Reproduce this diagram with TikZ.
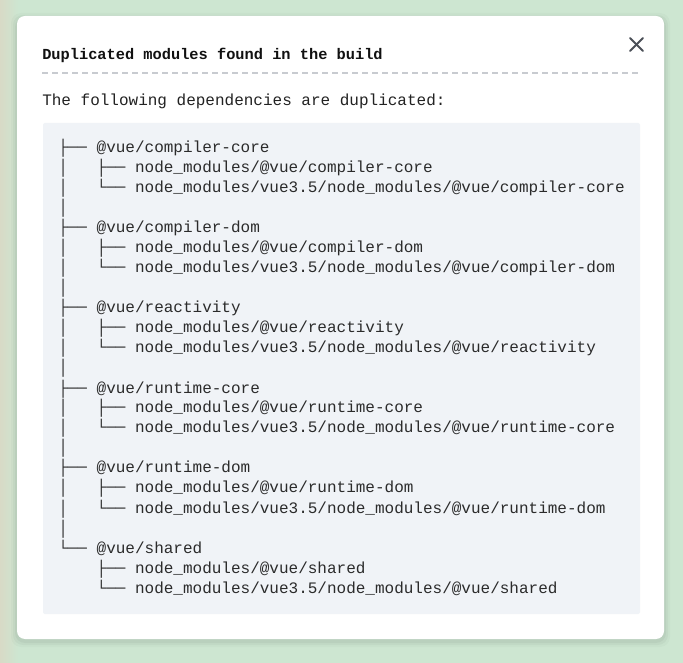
\documentclass[tikz,border=0pt]{standalone}
\usepackage{fontspec}
\setmonofont{Liberation Mono}
\usetikzlibrary{calc}
\definecolor{bggreen}{HTML}{CDE6D1}
\definecolor{bgbeige}{HTML}{D8DAC6}
\definecolor{codebg}{HTML}{F0F3F7}
\definecolor{dashgray}{HTML}{C8CBD0}
\definecolor{closegray}{HTML}{4A4F57}
\definecolor{titletxt}{HTML}{111111}
\definecolor{bodytxt}{HTML}{222222}
\definecolor{codetxt}{HTML}{2B2B2B}
\tikzset{
  code/.style={anchor=base west, inner sep=0pt, font=\ttfamily\fontsize{12}{15}\selectfont, text=codetxt},
  titletext/.style={anchor=base west, inner sep=0pt, font=\ttfamily\bfseries\fontsize{11.5}{14}\selectfont, text=titletxt},
  bodytext/.style={anchor=base west, inner sep=0pt, font=\ttfamily\fontsize{12}{15}\selectfont, text=bodytxt},
  closeline/.style={draw=closegray, line width=1.5pt, line cap=round},
}
\newcommand\nm{node\_modules}
\begin{document}
\begin{tikzpicture}[x=0.75pt,y=-0.75pt]
\useasboundingbox (0,0) rectangle (683,663);
% background
\fill[bggreen] (0,0) rectangle (683,663);
\shade[left color=bgbeige, right color=bggreen] (0,0) rectangle (18,663);
% card shadow
\foreach \s/\o in {6/0.02,4/0.03,2/0.04}{
  \fill[black, opacity=\o, rounded corners=7.5pt] (17-\s,16-\s+3) rectangle (664+\s,639+\s+2);
}
% card
\fill[white, rounded corners=6pt] (17,16) rectangle (664,639);
% title
\node[titletext] (title) at (42,60) {Duplicated modules found in the build};
% close icon
\coordinate (xa) at (630,38);
\coordinate (xb) at (643,51);
\coordinate (xc) at (643,38);
\coordinate (xd) at (630,51);
\draw[closeline] (xa) -- (xb);
\draw[closeline] (xc) -- (xd);
% dashed rule
\coordinate (ruleL) at (42,73);
\coordinate (ruleR) at (640,73);
\draw[dashgray, line width=1pt, dash pattern=on 4.5pt off 3pt] (ruleL) -- (ruleR);
% subtitle
\node[bodytext] (sub) at (42,106) {The following dependencies are duplicated:};
% code box
\fill[codebg, rounded corners=1.5pt] (43,123) rectangle (640,614);
% tree lines
\node[code] (L0)  at (58,153) {├── @vue/compiler-core};
\node[code] (L1)  at (58,173) {│\ \ \ ├── \nm/@vue/compiler-core};
\node[code] (L2)  at (58,193) {│\ \ \ └── \nm/vue3.5/\nm/@vue/compiler-core};
\node[code] (L3)  at (58,213) {│};
\node[code] (L4)  at (58,233) {├── @vue/compiler-dom};
\node[code] (L5)  at (58,253) {│\ \ \ ├── \nm/@vue/compiler-dom};
\node[code] (L6)  at (58,273) {│\ \ \ └── \nm/vue3.5/\nm/@vue/compiler-dom};
\node[code] (L7)  at (58,293) {│};
\node[code] (L8)  at (58,313) {├── @vue/reactivity};
\node[code] (L9)  at (58,333) {│\ \ \ ├── \nm/@vue/reactivity};
\node[code] (L10) at (58,353) {│\ \ \ └── \nm/vue3.5/\nm/@vue/reactivity};
\node[code] (L11) at (58,373) {│};
\node[code] (L12) at (58,393) {├── @vue/runtime-core};
\node[code] (L13) at (58,413) {│\ \ \ ├── \nm/@vue/runtime-core};
\node[code] (L14) at (58,433) {│\ \ \ └── \nm/vue3.5/\nm/@vue/runtime-core};
\node[code] (L15) at (58,453) {│};
\node[code] (L16) at (58,473) {├── @vue/runtime-dom};
\node[code] (L17) at (58,493) {│\ \ \ ├── \nm/@vue/runtime-dom};
\node[code] (L18) at (58,513) {│\ \ \ └── \nm/vue3.5/\nm/@vue/runtime-dom};
\node[code] (L19) at (58,533) {│};
\node[code] (L20) at (58,553) {└── @vue/shared};
\node[code] (L21) at (96.4,573) {├── \nm/@vue/shared};
\node[code] (L22) at (96.4,593) {└── \nm/vue3.5/\nm/@vue/shared};
\end{tikzpicture}
\end{document}
